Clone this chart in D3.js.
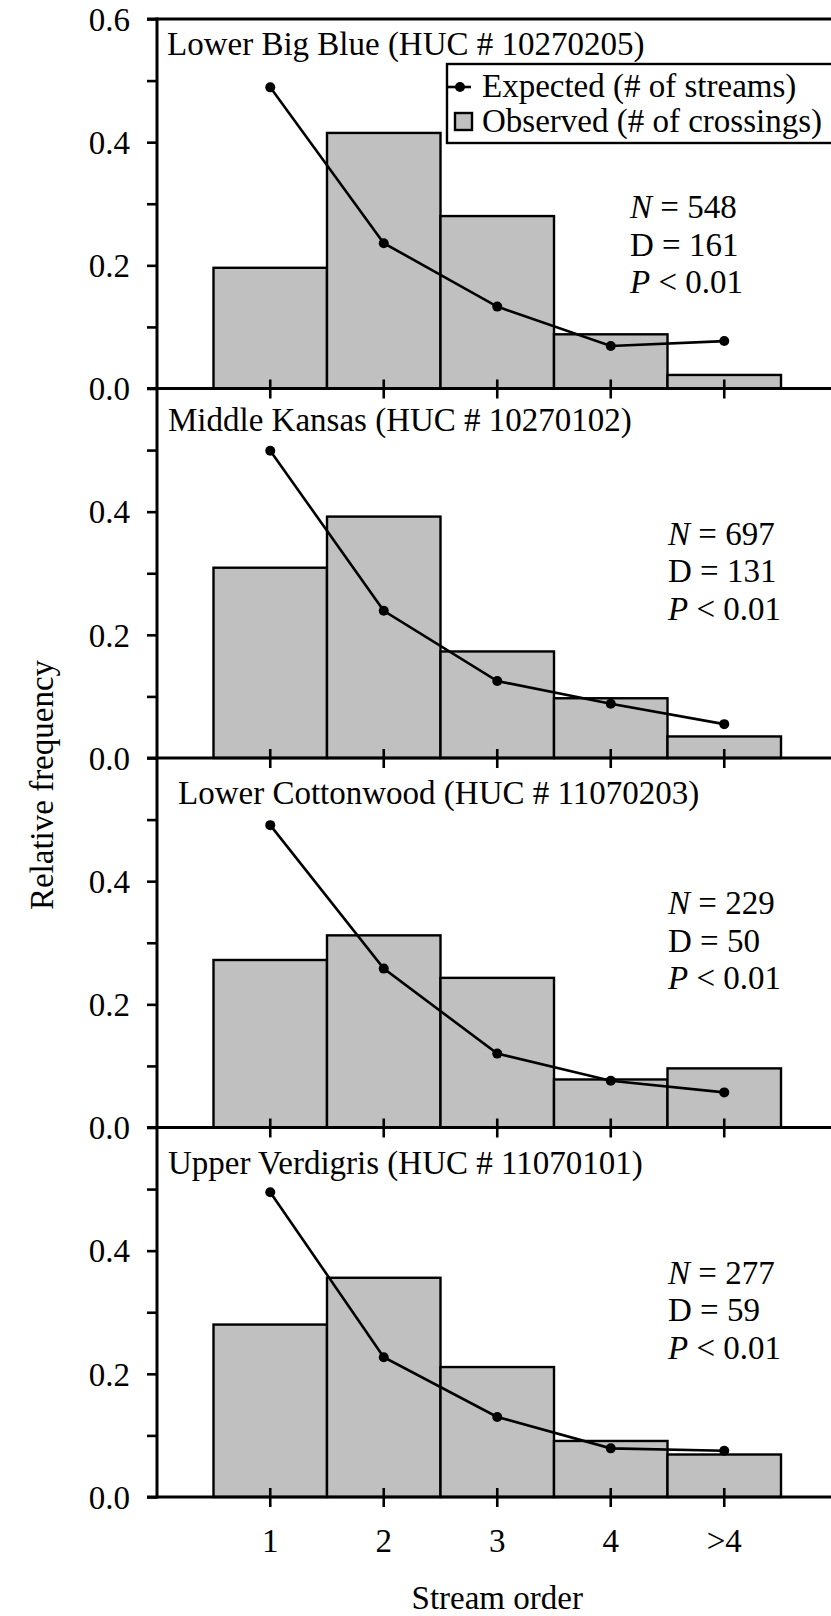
<!DOCTYPE html>
<html>
<head>
<meta charset="utf-8">
<script src="https://cdn.jsdelivr.net/npm/d3@7"></script>
<style>
  body { margin: 0; background: #fff; }
  svg text { font-family: "Liberation Serif", "Times New Roman", serif; fill: #000; }
</style>
</head>
<body>
<svg id="chart" width="831" height="1616"></svg>
<script>
// ---------- data ----------
const categories = ["1", "2", "3", "4", ">4"];
const panelTitles = [
  "Lower Big Blue (HUC # 10270205)",
  "Middle Kansas (HUC # 10270102)",
  "Lower Cottonwood (HUC # 11070203)",
  "Upper Verdigris (HUC # 11070101)"
];
const observed = [
  [0.196, 0.415, 0.280, 0.088, 0.022],
  [0.309, 0.392, 0.173, 0.097, 0.035],
  [0.272, 0.312, 0.243, 0.078, 0.096],
  [0.280, 0.356, 0.211, 0.091, 0.069]
];
const expected = [
  [0.489, 0.236, 0.133, 0.069, 0.077],
  [0.499, 0.239, 0.125, 0.088, 0.055],
  [0.491, 0.258, 0.120, 0.076, 0.057],
  [0.495, 0.227, 0.130, 0.079, 0.075]
];
const statN = ["548", "697", "229", "277"];
const statD = ["161", "131", "50", "59"];
const statP = ["0.01", "0.01", "0.01", "0.01"];
const yTicks = [0, 0.1, 0.2, 0.3, 0.4, 0.5, 0.6];
const yLabelValues = [0, 0.2, 0.4, 0.6];
const legendLabels = ["Expected (# of streams)", "Observed (# of crossings)"];
const xTitle = "Stream order";
const yTitle = "Relative frequency";

// ---------- layout ----------
const svg = d3.select("#chart");
const axisX = 157, rightX = 831;
const top0 = 19, panelH = 369.5;
const FS = 33;

const x = d3.scaleBand().domain(categories).range([213.5, 781]).padding(0);

for (let p = 0; p < 4; p++) {
  const ptop = top0 + panelH * p;
  const pbot = ptop + panelH;
  const y = d3.scaleLinear().domain([0, 0.6]).range([pbot, ptop]);
  const g = svg.append("g");

  // bars
  g.selectAll("rect.bar").data(observed[p]).join("rect")
    .attr("class", "bar")
    .attr("x", (d, i) => x(categories[i]))
    .attr("width", x.bandwidth())
    .attr("y", d => y(d))
    .attr("height", d => y(0) - y(d))
    .attr("fill", "#c0c0c0")
    .attr("stroke", "#000")
    .attr("stroke-width", 2.4);

  // expected line
  const line = d3.line()
    .x((d, i) => x(categories[i]) + x.bandwidth() / 2)
    .y(d => y(d));
  g.append("path").datum(expected[p])
    .attr("d", line).attr("fill", "none")
    .attr("stroke", "#000").attr("stroke-width", 2.6);
  g.selectAll("circle.pt").data(expected[p]).join("circle")
    .attr("class", "pt")
    .attr("cx", (d, i) => x(categories[i]) + x.bandwidth() / 2)
    .attr("cy", d => y(d))
    .attr("r", 5).attr("fill", "#000");

  // y axis
  const ticksHere = p === 0 ? yTicks : yTicks.filter(t => t < 0.6);
  const yAxis = d3.axisLeft(y)
    .tickValues(ticksHere)
    .tickSize(10)
    .tickPadding(17)
    .tickFormat(d => yLabelValues.some(v => Math.abs(v - d) < 1e-9) ? d3.format(".1f")(d) : "");
  const ya = g.append("g").attr("transform", `translate(${axisX},0)`).call(yAxis);
  ya.select(".domain").remove();
  ya.selectAll(".tick line").attr("stroke", "#000").attr("stroke-width", 2.6);
  ya.selectAll(".tick text").style("font-size", FS + "px").attr("dy", "0.34em");

  // x axis (ticks crossing the axis line)
  const xAxis = d3.axisBottom(x).tickSize(10)
    .tickFormat(p === 3 ? (d => d) : () => "");
  const xa = g.append("g").attr("transform", `translate(0,${pbot})`).call(xAxis);
  xa.select(".domain").remove();
  xa.selectAll(".tick line").attr("y1", -9).attr("stroke", "#000").attr("stroke-width", 2.6);
  xa.selectAll(".tick text").style("font-size", FS + "px").attr("y", 55).attr("dy", 0);

  // horizontal axis line
  g.append("line").attr("x1", axisX - 10).attr("x2", rightX)
    .attr("y1", y(0)).attr("y2", y(0))
    .attr("stroke", "#000").attr("stroke-width", 3);

  // panel title
  const titleX = [167, 168, 178, 168][p];
  const titleOff = [36, 42, 46, 46][p];
  g.append("text").attr("x", titleX).attr("y", ptop + titleOff)
    .style("font-size", FS + "px").text(panelTitles[p]);

  // stats
  const sx = p === 0 ? 630 : 668;
  const sOff = p === 0 ? 199 : 156;
  const t1 = g.append("text").attr("x", sx).attr("y", ptop + sOff).style("font-size", FS + "px");
  t1.append("tspan").style("font-style", "italic").text("N");
  t1.append("tspan").text(" = " + statN[p]);
  const t2 = g.append("text").attr("x", sx).attr("y", ptop + sOff + 37.5).style("font-size", FS + "px");
  t2.text("D = " + statD[p]);
  const t3 = g.append("text").attr("x", sx).attr("y", ptop + sOff + 75).style("font-size", FS + "px");
  t3.append("tspan").style("font-style", "italic").text("P");
  t3.append("tspan").text(" < " + statP[p]);
}

// top frame line and y axis line
svg.append("line").attr("x1", axisX - 10).attr("x2", rightX)
  .attr("y1", top0).attr("y2", top0).attr("stroke", "#000").attr("stroke-width", 3);
svg.append("line").attr("x1", axisX).attr("x2", axisX)
  .attr("y1", top0 - 1.5).attr("y2", top0 + panelH * 4 + 1.5)
  .attr("stroke", "#000").attr("stroke-width", 3);

// legend
const lg = svg.append("g");
lg.append("rect").attr("x", 447).attr("y", 64).attr("width", 390).attr("height", 79)
  .attr("fill", "#fff").attr("stroke", "#000").attr("stroke-width", 2.4);
lg.append("line").attr("x1", 447).attr("x2", 471).attr("y1", 87).attr("y2", 87)
  .attr("stroke", "#000").attr("stroke-width", 2.6);
lg.append("circle").attr("cx", 460).attr("cy", 87).attr("r", 5).attr("fill", "#000");
lg.append("rect").attr("x", 455).attr("y", 113).attr("width", 17).attr("height", 17)
  .attr("fill", "#c0c0c0").attr("stroke", "#000").attr("stroke-width", 2.4);
lg.append("text").attr("x", 482).attr("y", 97).style("font-size", FS + "px").text(legendLabels[0]);
lg.append("text").attr("x", 482).attr("y", 132).style("font-size", FS + "px").text(legendLabels[1]);

// axis titles
svg.append("text").attr("x", x("3") + x.bandwidth() / 2).attr("y", 1609)
  .attr("text-anchor", "middle").style("font-size", FS + "px").text(xTitle);
svg.append("text").attr("transform", "translate(53,785) rotate(-90)")
  .attr("text-anchor", "middle").style("font-size", FS + "px").text(yTitle);
</script>
</body>
</html>
